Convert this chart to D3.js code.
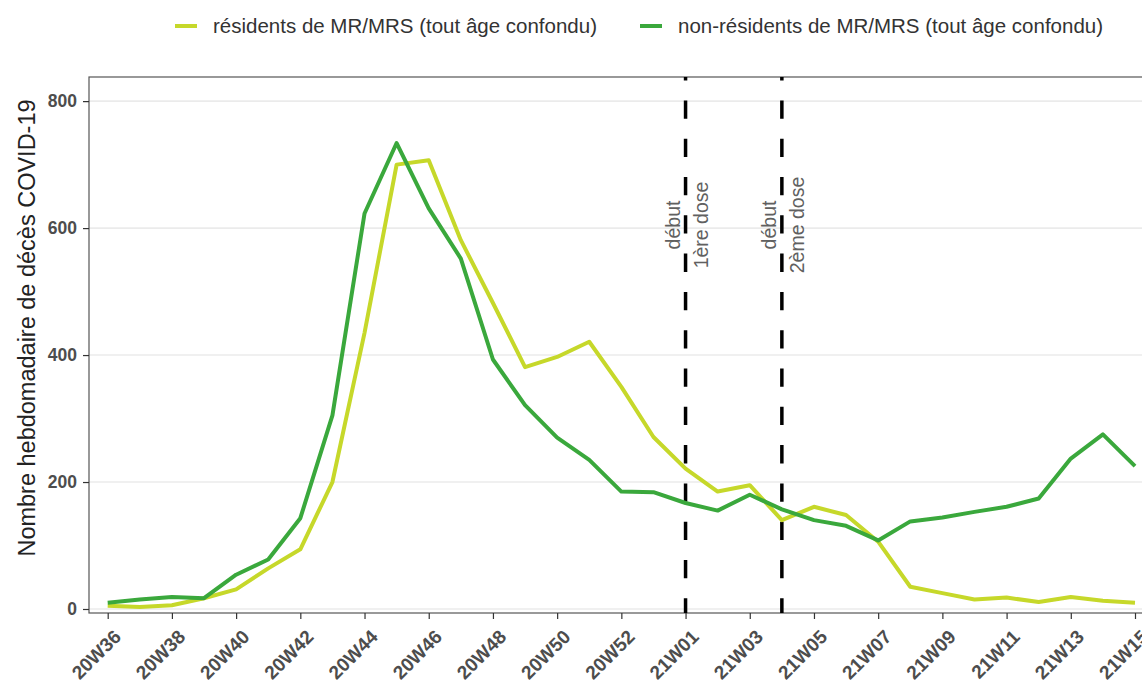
<!DOCTYPE html>
<html>
<head>
<meta charset="utf-8">
<script src="https://cdn.jsdelivr.net/npm/d3@7"></script>
<style>
  body { margin: 0; background: white; }
  text { font-family: "Liberation Sans", Arial, sans-serif; }
</style>
</head>
<body>
<div id="chart"></div>
<script>

// *** DATA ***

// weeks (2020 has a week 53)
let weeks = ["20W36","20W37","20W38","20W39","20W40","20W41","20W42","20W43","20W44","20W45",
             "20W46","20W47","20W48","20W49","20W50","20W51","20W52","20W53",
             "21W01","21W02","21W03","21W04","21W05","21W06","21W07","21W08","21W09",
             "21W10","21W11","21W12","21W13","21W14","21W15"];

let tickWeeks = ["20W36","20W38","20W40","20W42","20W44","20W46","20W48","20W50","20W52",
                 "21W01","21W03","21W05","21W07","21W09","21W11","21W13","21W15"];

let residents = [5, 3, 6, 17, 31, 64, 94, 200, 435, 700,
                 707, 581, 482, 381, 397, 421, 350, 271,
                 221, 185, 195, 140, 161, 148, 106, 35, 25,
                 15, 18, 11, 19, 13, 10];

let nonResidents = [10, 15, 19, 17, 54, 78, 143, 305, 623, 734,
                    631, 552, 393, 321, 270, 235, 185, 184,
                    167, 155, 180, 157, 140, 131, 108, 138, 144,
                    153, 161, 174, 237, 275, 225];

let seriesNames = ["résidents de MR/MRS (tout âge confondu)", "non-résidents de MR/MRS (tout âge confondu)"];

let yTicks = [0, 200, 400, 600, 800];

let markers = [
  {week: "21W01", lines: ["début", "1ère dose"]},
  {week: "21W04", lines: ["début", "2ème dose"]}
];

// *** SETTINGS ***

let width = 1142, height = 684;
let panel = {left: 89, top: 77, right: 1146, bottom: 613};
let colors = ["#c6d82a", "#3aa83c"];
let textGrey = "#4d4d4d";

// *** CHART ***

let svg = d3.select("#chart").append("svg")
  .attr("width", width)
  .attr("height", height);

let xScale = d3.scalePoint()
  .domain(weeks)
  .range([107.7, 1135]);

let yScale = d3.scaleLinear()
  .domain([-6.3, 838])
  .range([panel.bottom, panel.top]);

// gridlines
svg.append("g")
  .selectAll("line")
  .data(yTicks)
  .enter()
  .append("line")
    .attr("x1", panel.left)
    .attr("x2", panel.right)
    .attr("y1", d => yScale(d))
    .attr("y2", d => yScale(d))
    .style("stroke", "#ebebeb")
    .style("stroke-width", 1.6);

// panel border
svg.append("rect")
  .attr("x", panel.left)
  .attr("y", panel.top)
  .attr("width", panel.right - panel.left)
  .attr("height", panel.bottom - panel.top)
  .attr("fill", "none")
  .style("stroke", "#555")
  .style("stroke-width", 1.2);

// y axis
let yAxis = svg.append("g")
  .attr("transform", `translate(${panel.left},0)`)
  .call(d3.axisLeft(yScale).tickValues(yTicks).tickSize(6).tickPadding(6));
yAxis.select(".domain").remove();
yAxis.selectAll(".tick line").style("stroke", "#333").style("stroke-width", 1.2);
yAxis.selectAll(".tick text")
  .style("font-size", "17.5px")
  .style("font-weight", "bold")
  .style("fill", textGrey);

// x axis
let xAxis = svg.append("g")
  .attr("transform", `translate(0,${panel.bottom})`)
  .call(d3.axisBottom(xScale).tickValues(tickWeeks).tickSize(6));
xAxis.select(".domain").remove();
xAxis.selectAll(".tick line").style("stroke", "#333").style("stroke-width", 1.2);
xAxis.selectAll(".tick text")
  .attr("text-anchor", "end")
  .attr("dy", null)
  .attr("y", 0)
  .attr("transform", "translate(14,25) rotate(-45)")
  .style("font-size", "19px")
  .style("font-weight", "bold")
  .style("fill", textGrey);

// y title
svg.append("text")
  .attr("transform", "translate(35,328) rotate(-90)")
  .attr("text-anchor", "middle")
  .style("font-size", "23.5px")
  .style("fill", "#222")
  .text("Nombre hebdomadaire de décès COVID-19");

// vaccination markers
let markerG = svg.append("g").attr("class", "markers");

markerG.selectAll("line")
  .data(markers)
  .enter()
  .append("line")
    .attr("x1", d => xScale(d.week))
    .attr("x2", d => xScale(d.week))
    .attr("y1", panel.bottom)
    .attr("y2", panel.top)
    .style("stroke", "black")
    .style("stroke-width", 3.5)
    .style("stroke-dasharray", "18.3,20")
    .style("stroke-dashoffset", 3.6);

markers.forEach(m => {
  let x = xScale(m.week);
  m.lines.forEach((t, i) => {
    markerG.append("text")
      .attr("transform", `translate(${x - 6 + i * 28},225) rotate(-90)`)
      .attr("text-anchor", "middle")
      .style("font-size", "19.5px")
      .style("fill", "#606060")
      .text(t);
  });
});

// lines
let line = d3.line()
  .x((d, i) => xScale(weeks[i]))
  .y(d => yScale(d));

[residents, nonResidents].forEach((series, i) => {
  svg.append("path")
    .datum(series)
    .attr("d", line)
    .attr("fill", "none")
    .style("stroke", colors[i])
    .style("stroke-width", 4)
    .style("stroke-linejoin", "round");
});

// legend
let legendX = [175, 640];
let legend = svg.append("g").attr("class", "legend");

legend.selectAll("line")
  .data(seriesNames)
  .enter()
  .append("line")
    .attr("x1", (d, i) => legendX[i])
    .attr("x2", (d, i) => legendX[i] + 22)
    .attr("y1", 26)
    .attr("y2", 26)
    .style("stroke", (d, i) => colors[i])
    .style("stroke-width", 4);

legend.selectAll("text")
  .data(seriesNames)
  .enter()
  .append("text")
    .attr("x", (d, i) => legendX[i] + 38)
    .attr("y", 33)
    .style("font-size", "20.5px")
    .style("fill", "#333")
    .text(d => d);

</script>
</body>
</html>
